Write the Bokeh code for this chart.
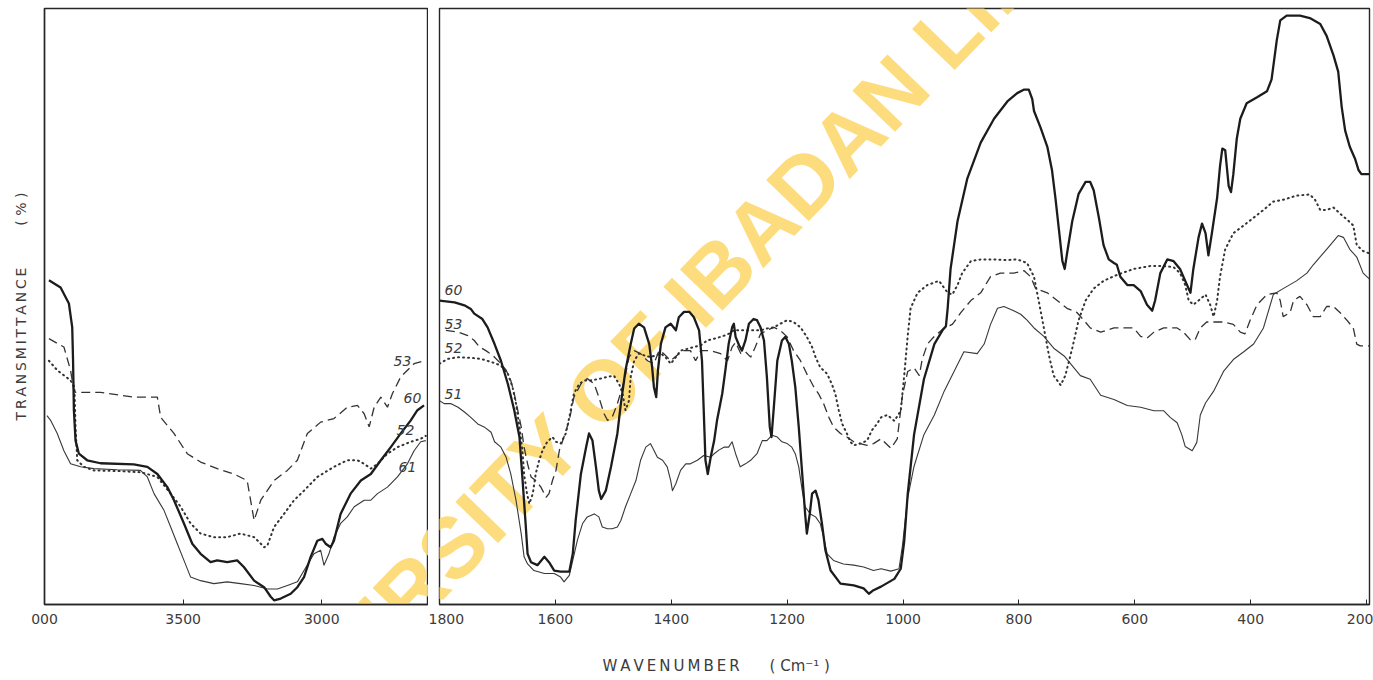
from bokeh.plotting import figure
from bokeh.layouts import row
from bokeh.models import Range1d, FixedTicker, Label
from bokeh.core.properties import value
from bokeh.embed import file_html
from bokeh.resources import INLINE

# ---------------- data (wavenumber cm-1, transmittance %) ----------------
# Left panel 4000-2615 cm-1
L60_wn = [3984, 3942, 3912, 3900, 3897, 3894, 3888, 3876, 3846, 3798, 3678, 3629, 3593, 3557, 3533,
          3497, 3467, 3437, 3401, 3377, 3341, 3305, 3281, 3244, 3208, 3184, 3172, 3148, 3112, 3088,
          3064, 3040, 3016, 2998, 2986, 2968, 2956, 2932, 2896, 2859, 2823, 2787, 2751, 2715, 2679,
          2655, 2631]
L60_t = [54.4, 53.2, 50.5, 46.5, 40.9, 32.6, 27.5, 25.3, 24.2, 23.7, 23.5, 23.1, 21.9, 19.7, 17.5,
         13.6, 10.2, 8.5, 7.1, 7.4, 7.1, 7.4, 6.3, 4.0, 2.9, 1.3, 0.7, 1.0, 1.8, 2.9,
         4.6, 8.0, 10.7, 11.0, 10.2, 9.6, 10.7, 15.2, 18.6, 20.8, 21.9, 24.2, 26.4, 28.7, 30.9,
         32.6, 33.4]

L61_wn = [3991, 3978, 3954, 3930, 3906, 3870, 3822, 3738, 3654, 3629, 3605, 3569, 3545, 3521, 3497,
          3473, 3437, 3389, 3341, 3293, 3244, 3196, 3160, 3124, 3088, 3064, 3028, 3004, 2992, 2974,
          2956, 2932, 2908, 2883, 2847, 2823, 2799, 2763, 2727, 2691, 2667, 2643, 2625]
L61_t = [31.7, 30.9, 28.7, 25.8, 23.6, 23.1, 22.8, 22.6, 22.5, 21.4, 18.6, 15.8, 13.0, 10.2, 7.4,
         4.6, 4.0, 3.5, 3.8, 3.5, 3.2, 2.6, 2.6, 3.2, 3.8, 5.7, 8.5, 9.1, 6.6, 8.5,
         11.3, 13.6, 14.7, 16.4, 17.5, 17.5, 18.6, 19.7, 21.4, 23.6, 25.8, 27.3, 27.5]

L53_wn = [3984, 3930, 3906, 3894, 3888, 3798, 3678, 3593, 3581, 3533, 3485, 3437, 3377, 3317, 3269,
          3244, 3220, 3172, 3124, 3088, 3052, 3004, 2956, 2908, 2871, 2847, 2829, 2811, 2787, 2763,
          2745, 2715, 2667, 2631]
L53_t = [44.6, 43.2, 39.3, 35.9, 35.6, 35.6, 34.8, 34.8, 31.4, 28.7, 25.3, 23.9, 22.8, 21.9, 20.8,
         14.1, 17.5, 20.8, 22.5, 24.2, 28.7, 30.6, 31.2, 33.1, 33.4, 32.0, 29.8, 33.1, 34.8, 33.1,
         35.4, 38.2, 40.4, 40.9]

L52_wn = [3984, 3954, 3906, 3892, 3888, 3882, 3858, 3822, 3738, 3654, 3593, 3545, 3509, 3473, 3437,
          3389, 3341, 3293, 3244, 3220, 3208, 3196, 3172, 3136, 3100, 3064, 3016, 2956, 2908, 2871,
          2847, 2823, 2799, 2763, 2727, 2679, 2643, 2625]
L52_t = [40.9, 39.3, 37.6, 36.5, 29.8, 24.2, 23.1, 22.5, 22.4, 22.2, 21.4, 18.6, 16.4, 13.6, 11.9,
         11.3, 11.3, 11.9, 11.3, 10.2, 9.6, 9.9, 13.0, 15.2, 17.5, 19.1, 21.4, 23.1, 24.2, 24.2,
         23.6, 22.8, 23.6, 25.3, 26.4, 27.3, 27.8, 28.3]

# Right panel 1800-195 cm-1
R60_wn = [1800, 1774, 1757, 1746, 1740, 1726, 1717, 1705, 1694, 1682, 1671, 1662, 1657, 1651, 1648,
          1642, 1631, 1619, 1611, 1602, 1591, 1576, 1570, 1565, 1556, 1547, 1542, 1536, 1530, 1525,
          1521, 1513, 1504, 1493, 1487, 1479, 1470, 1464, 1456, 1447, 1438, 1433, 1430, 1426, 1423,
          1418, 1410, 1401, 1392, 1387, 1378, 1369, 1361, 1352, 1347, 1344, 1341, 1337, 1332, 1326,
          1321, 1312, 1306, 1301, 1295, 1292, 1289, 1283, 1278, 1272, 1266, 1258, 1252, 1246, 1240,
          1235, 1230, 1227, 1223, 1217, 1209, 1203, 1197, 1192, 1186, 1180, 1174, 1169, 1166, 1161,
          1157, 1151, 1146, 1140, 1134, 1125, 1108, 1085, 1068, 1059, 1051, 1038, 1015, 1004, 998,
          992, 981, 964, 946, 932, 926, 923, 918, 906, 889, 866, 843, 820, 803, 791,
          783, 777, 774, 763, 751, 743, 737, 731, 725, 721, 717, 708, 697, 685, 677,
          671, 662, 654, 645, 636, 631, 625, 613, 602, 590, 579, 570, 565, 556, 544,
          533, 522, 513, 504, 499, 490, 484, 478, 473, 467, 458, 453, 449, 444, 438,
          434, 430, 424, 418, 407, 389, 372, 364, 355, 349, 338, 315, 298, 280, 269,
          257, 249, 243, 237, 229, 220, 214, 209, 195]
R60_t = [51.0, 50.7, 50.2, 49.6, 48.8, 47.9, 46.5, 43.7, 40.9, 37.0, 32.6, 28.1, 21.4, 13.0, 8.5,
         7.1, 6.6, 8.0, 7.1, 5.7, 5.5, 5.5, 8.5, 14.1, 21.9, 26.4, 28.7, 27.5, 23.1, 19.1,
         17.7, 19.1, 23.1, 28.7, 33.7, 39.3, 43.7, 46.3, 47.1, 46.5, 43.7, 39.8, 36.5, 34.8, 39.3,
         43.7, 46.5, 47.1, 46.0, 48.2, 49.1, 49.1, 48.2, 46.0, 40.9, 32.6, 24.2, 21.9, 24.7, 27.5,
         30.9, 35.4, 39.8, 43.7, 46.5, 47.1, 44.9, 43.5, 42.6, 44.3, 47.1, 47.9, 47.7, 46.5, 44.3,
         38.2, 29.8, 28.1, 33.1, 40.9, 44.3, 44.9, 43.7, 40.9, 36.5, 29.8, 21.9, 15.2, 11.9, 15.2,
         18.6, 19.1, 17.5, 13.6, 9.1, 5.7, 3.5, 3.2, 2.7, 1.8, 2.4, 3.0, 4.3, 6.0, 10.6,
         18.5, 28.5, 37.8, 43.7, 46.0, 46.7, 49.7, 56.3, 64.3, 71.5, 77.5, 81.5, 84.4, 85.8, 86.4,
         86.4, 84.8, 82.8, 80.1, 76.8, 72.9, 68.2, 62.9, 57.6, 56.3, 58.9, 64.3, 68.9, 70.9, 70.9,
         69.5, 64.9, 60.3, 57.9, 57.3, 57.0, 55.0, 53.6, 53.6, 52.6, 50.3, 49.3, 51.0, 55.6, 57.9,
         57.6, 56.3, 54.3, 52.3, 56.3, 61.6, 63.9, 62.3, 58.6, 62.3, 68.2, 73.5, 76.5, 76.2, 70.2,
         69.2, 72.2, 78.2, 81.5, 84.1, 85.1, 86.1, 88.1, 94.7, 98.0, 98.8, 98.8, 98.4, 97.4, 95.4,
         92.1, 89.4, 83.5, 79.5, 76.8, 74.8, 72.9, 72.2, 72.2]

R51_wn = [1800, 1792, 1780, 1768, 1757, 1746, 1734, 1723, 1711, 1705, 1694, 1685, 1677, 1668, 1659,
          1654, 1648, 1637, 1619, 1602, 1591, 1585, 1576, 1570, 1562, 1553, 1545, 1533, 1525, 1519,
          1510, 1502, 1493, 1487, 1479, 1470, 1461, 1453, 1444, 1436, 1430, 1424, 1415, 1407, 1401,
          1398, 1392, 1384, 1375, 1367, 1355, 1344, 1332, 1326, 1318, 1309, 1301, 1295, 1289, 1281,
          1272, 1263, 1252, 1243, 1235, 1226, 1217, 1209, 1200, 1192, 1186, 1180, 1174, 1169, 1160,
          1151, 1143, 1137, 1131, 1120, 1103, 1085, 1068, 1051, 1038, 1021, 1007, 1001, 992,
          981, 964, 946, 929, 912, 895, 872, 860, 849, 837, 826, 809, 797, 786, 774,
          757, 740, 722, 705, 694, 677, 659, 636, 613, 590, 567, 550, 539, 527, 519,
          513, 501, 493, 487, 478, 464, 447, 430, 412, 395, 378, 361, 344, 321, 303,
          292, 269, 249, 240, 229, 217, 206, 195]
R51_t = [34.2, 33.7, 33.7, 33.1, 32.3, 31.4, 30.3, 29.8, 28.9, 27.3, 26.4, 24.7, 21.9, 17.5, 11.9,
         8.0, 6.8, 5.7, 5.2, 5.2, 4.6, 3.8, 4.9, 7.4, 10.8, 13.6, 14.7, 15.2, 14.7, 13.0,
         12.7, 12.7, 13.0, 14.1, 16.4, 18.6, 20.8, 24.2, 26.4, 27.0, 25.9, 24.7, 24.2, 23.1, 20.8,
         19.1, 20.3, 22.5, 23.6, 23.6, 24.2, 25.0, 24.7, 25.3, 25.9, 26.4, 26.4, 27.3, 25.3, 23.1,
         23.6, 24.2, 25.3, 27.5, 27.5, 28.4, 28.1, 27.3, 27.0, 26.4, 25.3, 23.1, 19.1, 16.4, 15.2,
         14.7, 13.6, 11.3, 8.5, 7.4, 6.8, 6.6, 6.3, 5.7, 6.0, 5.6, 6.0, 9.9, 17.9,
         23.2, 28.5, 31.8, 35.8, 39.1, 42.4, 42.1, 43.7, 47.0, 49.7, 50.0, 49.3, 48.7, 47.7, 46.4,
         45.0, 43.0, 41.7, 39.7, 38.4, 37.8, 35.1, 34.4, 33.4, 33.1, 32.5, 32.5, 31.4, 30.5, 28.5,
         26.5, 25.8, 27.2, 31.8, 33.8, 35.8, 39.1, 41.1, 42.4, 43.7, 46.4, 52.0, 53.0, 54.3, 55.6,
         57.0, 59.6, 61.9, 61.6, 59.6, 58.3, 55.6, 54.6]

R53_wn = [1789, 1768, 1751, 1740, 1731, 1720, 1708, 1694, 1685, 1677, 1671, 1665, 1659, 1654, 1648,
          1642, 1634, 1625, 1616, 1611, 1605, 1599, 1593, 1588, 1576, 1568, 1556, 1545, 1533, 1525,
          1516, 1510, 1502, 1493, 1481, 1473, 1464, 1453, 1441, 1430, 1421, 1413, 1401, 1390, 1378,
          1367, 1358, 1349, 1332, 1315, 1303, 1295, 1289, 1280, 1272, 1263, 1255, 1246, 1235, 1223,
          1212, 1200, 1189, 1177, 1166, 1154, 1146, 1137, 1128, 1120, 1108, 1097, 1085, 1074, 1062,
          1051, 1038, 1021, 1010, 1001, 992, 981, 972, 967, 958, 946, 929, 915, 900, 883,
          866, 849, 832, 809, 791, 780, 771, 751, 734, 717, 700, 688, 677, 659, 636,
          613, 602, 590, 579, 567, 550, 527, 516, 504, 496, 487, 476, 464, 447, 430,
          418, 410, 401, 389, 372, 355, 349, 344, 332, 326, 315, 303, 292, 280, 269,
          257, 246, 234, 223, 217, 211, 195]
R53_t = [46.0, 45.7, 45.1, 44.3, 43.2, 42.6, 41.8, 40.4, 39.3, 37.6, 35.4, 32.6, 29.8, 26.4, 23.6,
         21.4, 20.8, 19.7, 18.0, 18.6, 20.8, 22.5, 25.9, 27.3, 30.9, 34.8, 37.0, 37.9, 37.0, 34.8,
         32.0, 30.9, 31.4, 33.7, 37.6, 41.5, 42.6, 42.1, 40.9, 40.4, 42.6, 42.1, 40.9, 41.8, 42.6,
         42.6, 40.9, 42.6, 42.6, 42.1, 40.9, 43.2, 44.0, 42.1, 42.4, 41.5, 43.2, 45.4, 46.0, 46.5,
         46.0, 44.9, 42.6, 40.9, 38.7, 36.5, 35.4, 33.7, 31.4, 29.8, 28.7, 28.1, 27.3, 27.0, 26.7,
         27.0, 27.8, 26.2, 27.8, 35.1, 39.1, 39.7, 38.4, 41.1, 43.7, 45.0, 46.4, 47.0, 49.0, 51.0,
         52.3, 55.0, 55.6, 55.6, 56.0, 55.0, 53.0, 52.3, 51.0, 49.7, 49.0, 47.7, 46.4, 45.7, 46.4,
         46.4, 46.4, 45.0, 44.7, 45.7, 46.4, 46.4, 45.7, 44.4, 44.4, 46.4, 47.4, 47.4, 47.4, 47.0,
         45.7, 45.4, 47.7, 50.3, 52.0, 52.3, 51.0, 48.3, 49.0, 51.0, 51.7, 50.3, 48.3, 48.3, 50.0,
         50.0, 49.0, 47.7, 46.4, 43.7, 43.4, 43.4]

R52_wn = [1800, 1786, 1768, 1746, 1728, 1711, 1694, 1682, 1674, 1668, 1662, 1657, 1654, 1649, 1645,
          1639, 1634, 1628, 1622, 1614, 1605, 1599, 1591, 1582, 1576, 1568, 1559, 1550, 1539, 1522,
          1510, 1499, 1490, 1484, 1479, 1473, 1470, 1464, 1456, 1447, 1436, 1427, 1418, 1410, 1401,
          1392, 1384, 1372, 1361, 1349, 1338, 1326, 1315, 1303, 1292, 1281, 1269, 1258, 1246, 1235,
          1223, 1212, 1200, 1189, 1177, 1166, 1157, 1151, 1143, 1131, 1123, 1117, 1111, 1105, 1097,
          1091, 1085, 1074, 1062, 1054, 1045, 1038, 1027, 1015, 1004, 998, 992, 987, 975, 958,
          938, 923, 915, 906, 898, 883, 866, 843, 820, 803, 786, 774, 766, 757, 748,
          740, 728, 720, 708, 697, 685, 671, 654, 631, 602, 573, 550, 533, 522, 513,
          507, 499, 490, 478, 470, 464, 458, 453, 444, 430, 412, 395, 378, 361, 344,
          321, 298, 289, 280, 269, 257, 246, 234, 223, 217, 206, 195]
R52_t = [40.4, 41.2, 41.5, 41.4, 41.2, 40.7, 40.1, 38.7, 36.5, 33.7, 29.8, 25.9, 21.9, 18.6, 16.9,
         18.6, 21.9, 24.2, 25.9, 27.3, 28.1, 27.3, 27.0, 28.7, 31.4, 35.4, 37.0, 37.6, 37.6, 37.9,
         38.2, 38.4, 37.0, 35.4, 32.6, 34.2, 38.2, 40.9, 42.1, 41.8, 41.5, 41.8, 42.1, 41.5, 40.4,
         41.5, 42.6, 42.9, 43.2, 43.5, 44.3, 44.6, 44.9, 45.3, 46.0, 46.0, 46.0, 46.0, 46.0, 46.3,
         46.5, 47.1, 47.7, 47.4, 46.5, 44.9, 43.2, 41.5, 39.8, 38.7, 37.0, 35.4, 32.6, 30.3, 28.7,
         27.3, 26.7, 27.0, 27.5, 29.2, 30.3, 31.4, 31.8, 30.8, 32.5, 38.4, 45.0, 49.7, 52.3, 53.6,
         54.3, 52.3, 52.0, 53.6, 55.6, 57.6, 57.9, 57.9, 57.8, 57.9, 57.3, 55.0, 51.0, 46.4, 41.7,
         38.4, 36.8, 38.4, 43.0, 47.7, 51.0, 53.0, 54.3, 55.3, 56.3, 56.8, 56.8, 56.6, 55.6, 53.6,
         51.0, 50.3, 51.0, 52.0, 50.3, 48.3, 51.0, 55.0, 59.6, 62.3, 63.6, 64.9, 66.2, 67.6, 67.9,
         68.6, 68.8, 67.9, 66.2, 66.2, 66.6, 65.6, 64.6, 63.6, 60.3, 59.3, 58.9]

left_ticks = [4000, 3500, 3000]
right_ticks = [1800, 1600, 1400, 1200, 1000, 800, 600, 400, 200]
left_curve_labels = ["53", "60", "52", "61"]
right_curve_labels = ["60", "53", "52", "51"]

# ---------------- styling ----------------
INK = "#262626"
TXT = "#3c3c3c"
FONT = "DejaVu Sans"
H = 680
NB = "\u00a0"
EM = "\u2003"
TH = "\u2009"


def make_fig(width, xr, mb_left, mb_right, with_y):
    p = figure(width=width, height=H, x_range=xr, y_range=Range1d(0, 100),
               output_backend="svg", toolbar_location=None, title=None,
               y_axis_location="left" if with_y else None,
               min_border_left=mb_left, min_border_right=mb_right,
               min_border_top=8, min_border_bottom=76)
    p.xgrid.visible = False
    p.ygrid.visible = False
    p.outline_line_color = INK
    p.outline_line_width = 1.4
    p.background_fill_color = "white"
    p.border_fill_color = "white"
    ax = p.xaxis[0]
    ax.axis_line_color = INK
    ax.axis_line_width = 1.4
    ax.major_tick_in = 5
    ax.major_tick_out = 0
    ax.major_tick_line_color = INK
    ax.minor_tick_line_color = None
    ax.major_label_standoff = 9
    ax.major_label_text_font = FONT
    ax.major_label_text_font_size = "14px"
    ax.major_label_text_color = TXT
    return p


def add_curves(p, sets):
    for wn, t, kind in sets:
        if kind == "thick":
            p.line(wn, t, line_color="#1c1c1c", line_width=2.3, line_join="round")
        elif kind == "thin":
            p.line(wn, t, line_color="#383838", line_width=1.1, line_join="round")
        elif kind == "dash":
            p.line(wn, t, line_color="#333333", line_width=1.3, line_dash="9 5")
        else:
            p.line(wn, t, line_color="#333333", line_width=2.0, line_dash="1 4",
                   line_cap="round")


# ---------------- left panel ----------------
left = make_fig(428, Range1d(4000, 2615), 44, 0, True)
left.xaxis[0].ticker = FixedTicker(ticks=left_ticks)
left.xaxis[0].major_label_overrides = {4000: "000"}
ya = left.yaxis[0]
ya.ticker = FixedTicker(ticks=[])
ya.axis_line_color = INK
ya.axis_line_width = 1.4
ya.major_tick_line_color = None
ya.minor_tick_line_color = None
ya.axis_label = (TH.join("TRANSMITTANCE") + EM * 3 + "(" + NB + "%" + NB + ")")
ya.axis_label_text_font = FONT
ya.axis_label_text_font_size = "14px"
ya.axis_label_text_font_style = "normal"
ya.axis_label_text_color = TXT
ya.axis_label_standoff = 16

add_curves(left, [(L53_wn, L53_t, "dash"), (L52_wn, L52_t, "dot"),
                  (L61_wn, L61_t, "thin"), (L60_wn, L60_t, "thick")])
left.text(x=[2709, 2673, 2698, 2691], y=[40.9, 34.7, 29.2, 23.0], text=left_curve_labels,
          text_font=value(FONT), text_font_style="italic", text_font_size="14px",
          text_align="center", text_baseline="middle", text_color=TXT)

# ---------------- right panel ----------------
right = make_fig(945, Range1d(1800, 195), 11, 4, False)
xa = right.xaxis[0]
xa.ticker = FixedTicker(ticks=right_ticks)
# axis title sits left of the panel centre in the source; trailing no-break
# spaces shift the centred label to that place
xa.axis_label = (TH.join("WAVENUMBER") + EM * 2 + "(" + NB + "Cm\u207b\u00b9" + NB + ")"
                 + NB * 79)
xa.axis_label_text_font = FONT
xa.axis_label_text_font_size = "15px"
xa.axis_label_text_font_style = "normal"
xa.axis_label_text_color = TXT
xa.axis_label_standoff = 30

add_curves(right, [(R53_wn, R53_t, "dash"), (R52_wn, R52_t, "dot"),
                   (R51_wn, R51_t, "thin"), (R60_wn, R60_t, "thick")])
right.text(x=[1776, 1776, 1776, 1776], y=[52.7, 47.1, 43.0, 35.4], text=right_curve_labels,
           text_font=value(FONT), text_font_style="italic", text_font_size="14px",
           text_align="center", text_baseline="middle", text_color=TXT)

# watermark of the scanned source, drawn in both panels so it runs across
WM = "UNIVERSITY OF IBADAN LIBRARY"
for fig, wx in ((left, 1634), (right, 1350)):
    fig.add_layout(Label(x=wx, y=52.7, text=WM, angle=46, angle_units="deg",
                         text_align="center", text_baseline="middle",
                         text_font="Liberation Sans", text_font_size="86px",
                         text_font_style="bold",
                         text_color="#FDD870", text_alpha=0.9, level="underlay"))

layout = row(left, right)
open("out.html", "w").write(file_html(layout, INLINE))
